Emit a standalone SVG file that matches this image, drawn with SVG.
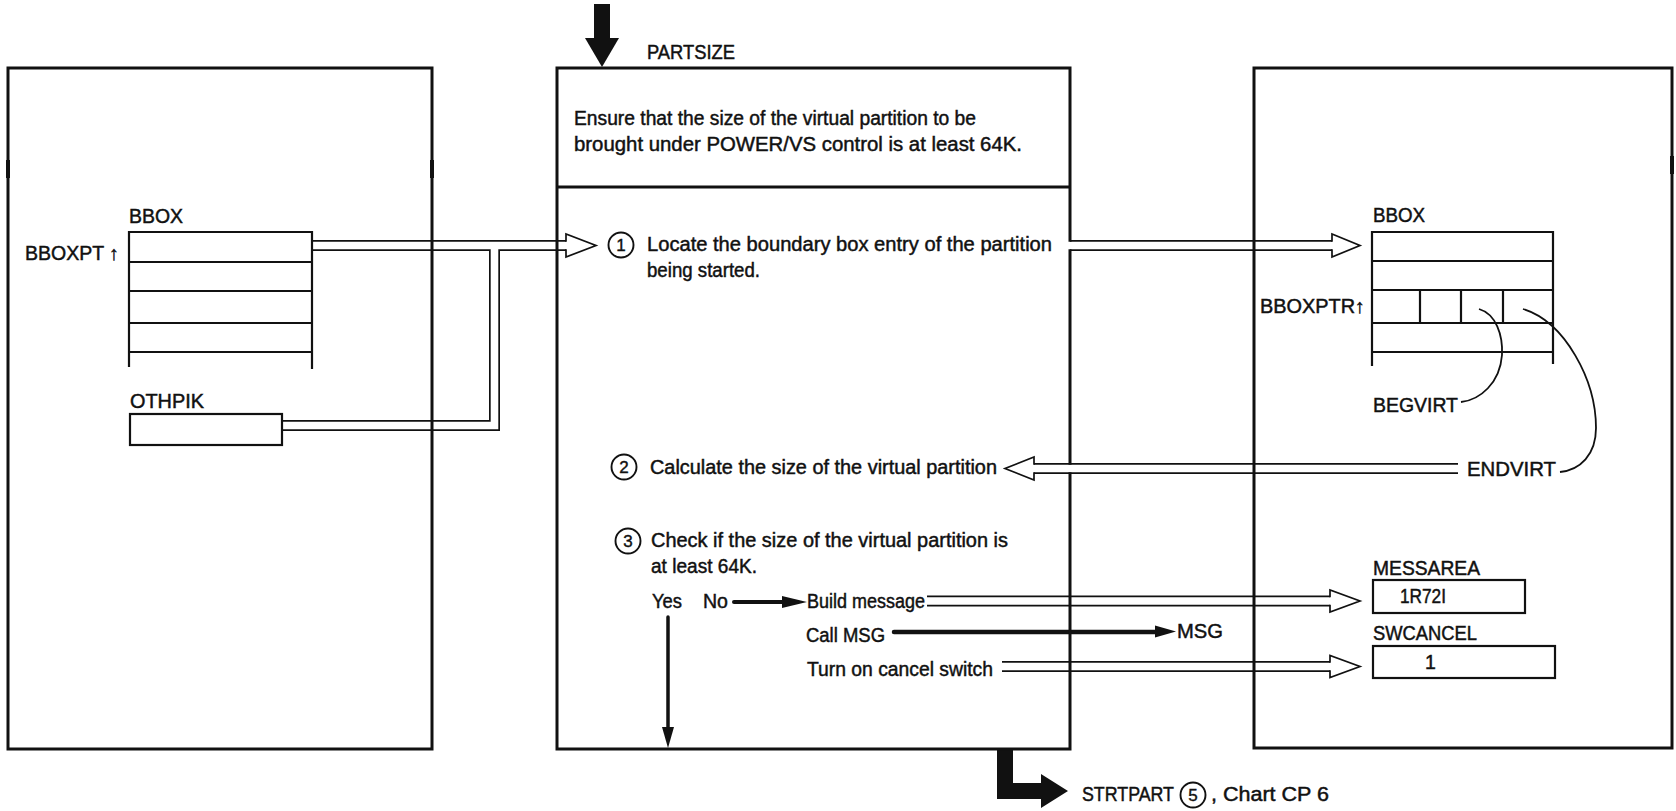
<svg xmlns="http://www.w3.org/2000/svg" width="1676" height="811" viewBox="0 0 1676 811">
<style>
.box{fill:none;stroke:#111;stroke-width:3;stroke-linejoin:miter}
.tbl{fill:none;stroke:#111;stroke-width:2.2}
.t{font-family:"Liberation Sans",Arial,sans-serif;font-size:19.5px;fill:#111;stroke:#111;stroke-width:0.45}
.n{font-family:"Liberation Sans",Arial,sans-serif;font-size:17px;fill:#111;stroke:#111;stroke-width:0.4;text-anchor:middle}
.chO{fill:none;stroke:#111;stroke-width:11;stroke-linejoin:miter}
.chI{fill:none;stroke:#fff;stroke-width:7.6;stroke-linejoin:miter}
.head{fill:#fff;stroke:#111;stroke-width:1.7;stroke-linejoin:miter}
.num{fill:#fff;stroke:#111;stroke-width:1.9}
.solid{fill:none;stroke:#111;stroke-linecap:round}
.fill{fill:#111;stroke:none}
.curve{fill:none;stroke:#111;stroke-width:1.8}
</style>
<rect width="1676" height="811" fill="#fff"/>

<g id="connectors">
  <path class="chO" d="M312,245.5 H566 M282,425.5 H494.5 V245.5"/>
  <path class="chI" d="M312,245.5 H566 M282,425.5 H494.5 V245.5"/>
  <path class="head" d="M566,241.7 V234 L596,245.5 L566,257 V249.3"/>
  <path class="chO" d="M1070,245.5 H1332"/>
  <path class="chI" d="M1068,245.5 H1332"/>
  <path class="head" d="M1332,241.7 V234 L1360,245.5 L1332,257 V249.3"/>
  <path class="chO" d="M1458,468.5 H1034"/>
  <path class="chI" d="M1458,468.5 H1034"/>
  <path class="head" d="M1034,464.7 V457 L1005,468.5 L1034,480 V472.3"/>
  <path class="chO" d="M927,601 H1330"/>
  <path class="chI" d="M927,601 H1330"/>
  <path class="head" d="M1330,597.2 V590 L1360,601 L1330,612 V604.8"/>
  <path class="chO" d="M1002,666.5 H1330"/>
  <path class="chI" d="M1002,666.5 H1330"/>
  <path class="head" d="M1330,662.7 V655.5 L1360,666.5 L1330,677.5 V670.3"/>
  <path class="solid" stroke-width="4" d="M734,602 H786"/>
  <path class="fill" d="M782,596 L807,602 L782,608 Z"/>
  <path class="solid" stroke-width="4.5" d="M894,632 H1158"/>
  <path class="fill" d="M1155,625.5 L1176,631.5 L1155,637.5 Z"/>
  <path class="solid" stroke-width="3.5" d="M668,617 V730"/>
  <path class="fill" d="M662,727 L674,727 L668,748 Z"/>
  <rect class="fill" x="594" y="4" width="16" height="36"/>
  <path class="fill" d="M585,38 L619,38 L602,67 Z"/>
  <path class="fill" d="M997,749 H1013 V783 H1041 V774 L1068,791 L1041,808 V799 H997 Z"/>
  <path class="curve" d="M1479,309 C1496,314 1503,335 1502,355 C1500,383 1480,400 1461,402"/>
  <path class="curve" d="M1523,309 C1565,322 1596,380 1596,428 C1596,455 1580,470 1560,472"/>
</g>

<g id="left-box">
  <rect class="box" x="8" y="68" width="424" height="681"/>
  <rect class="fill" x="6" y="160" width="4" height="18"/>
  <rect class="fill" x="430" y="160" width="4" height="18"/>
</g>

<g id="partsize">
  <path class="box" d="M1070,472.3 V749 H557 V68 H1070 V241.7 M1070,249.3 V464.7"/>
  <path class="box" stroke-width="3.5" d="M557,187 H1070"/>
  <text class="t" x="647" y="59" textLength="88" lengthAdjust="spacingAndGlyphs">PARTSIZE</text>
  <text class="t" x="574" y="125" textLength="402" lengthAdjust="spacingAndGlyphs">Ensure that the size of the virtual partition to be</text>
  <text class="t" x="574" y="151" textLength="448" lengthAdjust="spacingAndGlyphs">brought under POWER/VS control is at least 64K.</text>
</g>

<g id="step1">
  <circle class="num" cx="621" cy="245" r="12.5"/>
  <text class="n" x="621" y="251">1</text>
  <text class="t" x="647" y="251" textLength="405" lengthAdjust="spacingAndGlyphs">Locate the boundary box entry of the partition</text>
  <text class="t" x="647" y="277" textLength="113" lengthAdjust="spacingAndGlyphs">being started.</text>
</g>

<g id="step2">
  <circle class="num" cx="624" cy="467" r="12.5"/>
  <text class="n" x="624" y="473">2</text>
  <text class="t" x="650" y="474" textLength="347" lengthAdjust="spacingAndGlyphs">Calculate the size of the virtual partition</text>
</g>

<g id="step3">
  <circle class="num" cx="628" cy="541" r="12.5"/>
  <text class="n" x="628" y="547">3</text>
  <text class="t" x="651" y="547" textLength="357" lengthAdjust="spacingAndGlyphs">Check if the size of the virtual partition is</text>
  <text class="t" x="651" y="573" textLength="106" lengthAdjust="spacingAndGlyphs">at least 64K.</text>
  <text class="t" x="652" y="608" textLength="30" lengthAdjust="spacingAndGlyphs">Yes</text>
  <text class="t" x="703" y="608" textLength="25" lengthAdjust="spacingAndGlyphs">No</text>
  <text class="t" x="807" y="608" textLength="118" lengthAdjust="spacingAndGlyphs">Build message</text>
  <text class="t" x="806" y="642" textLength="79" lengthAdjust="spacingAndGlyphs">Call MSG</text>
  <text class="t" x="807" y="676" textLength="186" lengthAdjust="spacingAndGlyphs">Turn on cancel switch</text>
</g>

<g id="msg">
  <text class="t" x="1177" y="638" textLength="46" lengthAdjust="spacingAndGlyphs">MSG</text>
</g>

<g id="bbox-left">
  <text class="t" x="129" y="223" textLength="54" lengthAdjust="spacingAndGlyphs">BBOX</text>
  <text class="t" x="25" y="260" textLength="94" lengthAdjust="spacingAndGlyphs">BBOXPT ↑</text>
  <path class="tbl" d="M129,367 V232 H312 V369 M129,262 H312 M129,291 H312 M129,323 H312 M129,352 H312"/>
</g>

<g id="othpik">
  <text class="t" x="130" y="408" textLength="74" lengthAdjust="spacingAndGlyphs">OTHPIK</text>
  <rect class="tbl" x="130" y="414" width="152" height="31"/>
</g>

<g id="right-box">
  <rect class="box" x="1254" y="68" width="418" height="680"/>
  <rect class="fill" x="1670" y="156" width="4" height="18"/>
</g>

<g id="bbox-right">
  <text class="t" x="1373" y="222" textLength="52" lengthAdjust="spacingAndGlyphs">BBOX</text>
  <text class="t" x="1260" y="313" textLength="105" lengthAdjust="spacingAndGlyphs">BBOXPTR↑</text>
  <path class="tbl" d="M1372,366 V232 H1553 V364 M1372,261 H1553 M1372,290 H1553 M1372,323 H1553 M1372,352 H1553 M1420,290 V323 M1461,290 V323 M1503,290 V323"/>
  <text class="t" x="1373" y="412" textLength="85" lengthAdjust="spacingAndGlyphs">BEGVIRT</text>
  <text class="t" x="1467" y="476" textLength="89" lengthAdjust="spacingAndGlyphs">ENDVIRT</text>
</g>

<g id="messarea">
  <text class="t" x="1373" y="575" textLength="107" lengthAdjust="spacingAndGlyphs">MESSAREA</text>
  <rect class="tbl" x="1373" y="580" width="152" height="33"/>
  <text class="t" x="1400" y="603" textLength="46" lengthAdjust="spacingAndGlyphs">1R72I</text>
</g>

<g id="swcancel">
  <text class="t" x="1373" y="640" textLength="104" lengthAdjust="spacingAndGlyphs">SWCANCEL</text>
  <rect class="tbl" x="1373" y="646" width="182" height="32"/>
  <text class="t" x="1425" y="669">1</text>
</g>

<g id="strtpart">
  <text class="t" x="1082" y="801" textLength="92" lengthAdjust="spacingAndGlyphs">STRTPART</text>
  <circle class="num" cx="1193" cy="795" r="12.5"/>
  <text class="n" x="1193" y="801">5</text>
  <text class="t" x="1211" y="801" textLength="118" lengthAdjust="spacingAndGlyphs">, Chart CP 6</text>
</g>
</svg>
